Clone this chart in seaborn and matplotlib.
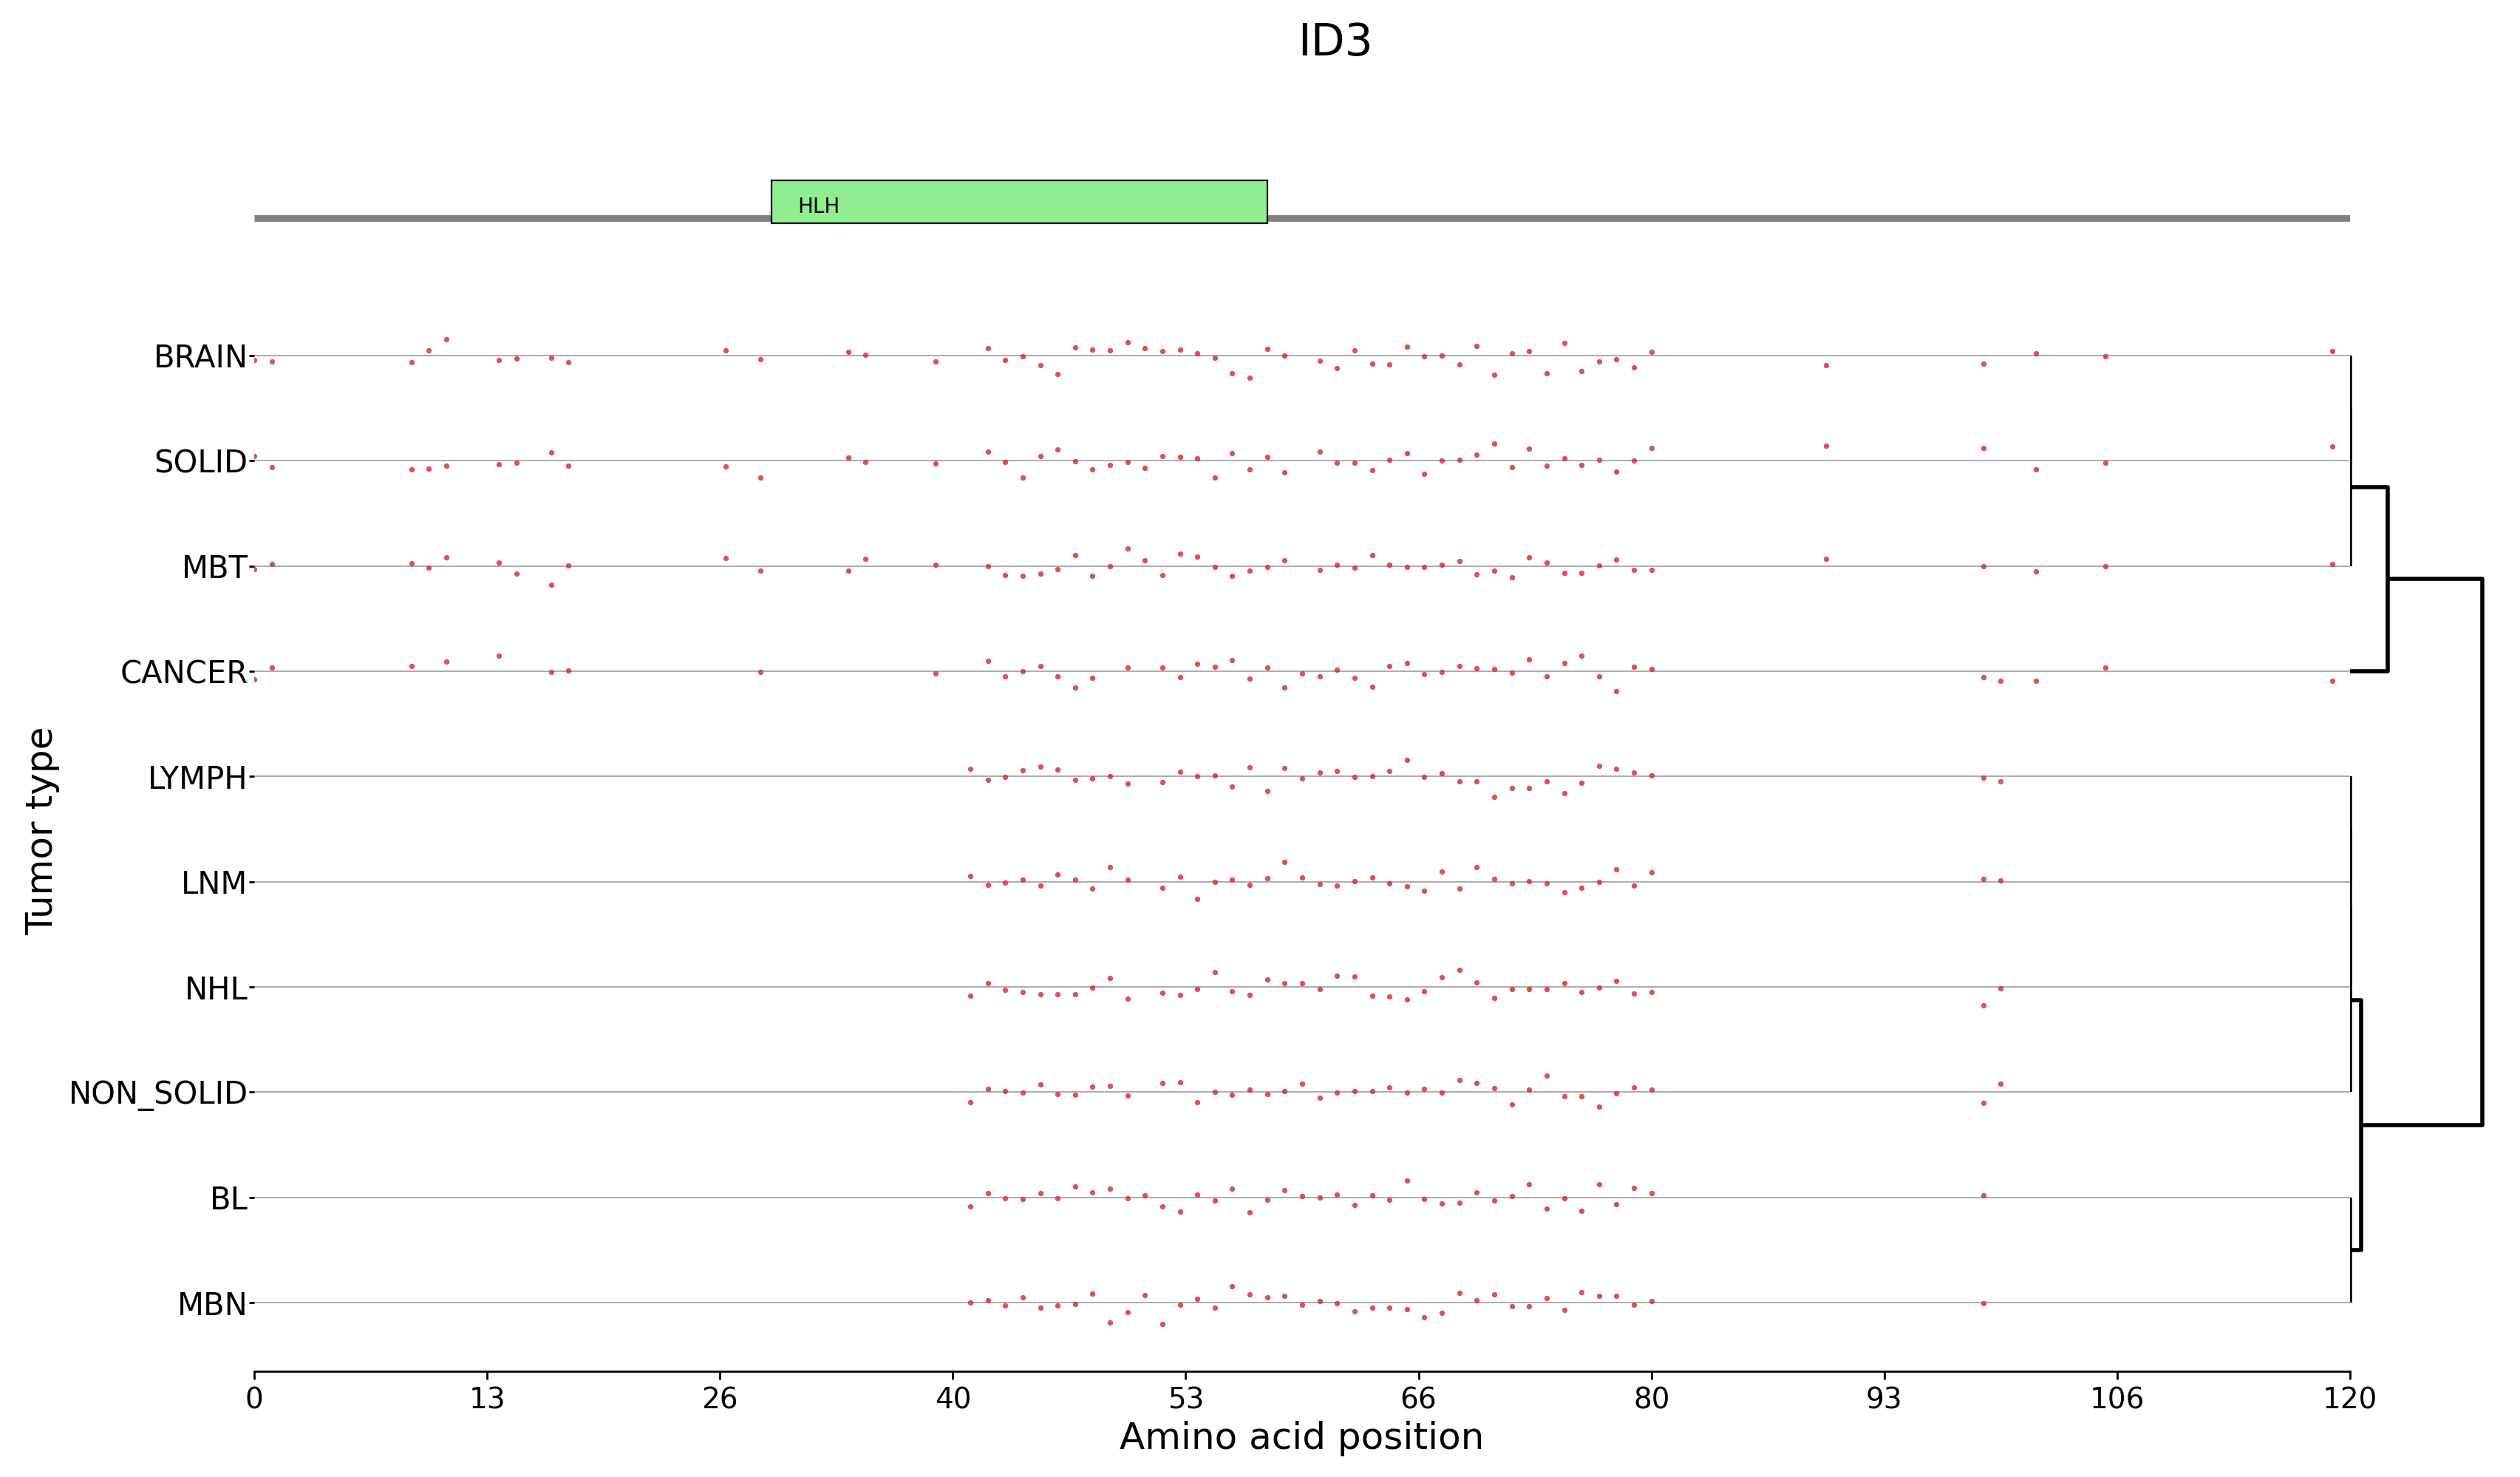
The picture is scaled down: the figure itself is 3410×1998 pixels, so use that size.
import numpy as np
import pandas as pd
import matplotlib
matplotlib.use("Agg")
import matplotlib.pyplot as plt
from matplotlib.patches import Rectangle
import seaborn as sns

# --- data -------------------------------------------------------------
gene = "ID3"
protein_length = 120
domain_name = "HLH"
domain_start = 29.6
domain_end = 58.0

tumor_types = ["BRAIN", "SOLID", "MBT", "CANCER", "LYMPH", "LNM", "NHL",
               "NON_SOLID", "BL", "MBN"]

# mutated amino acid positions per tumor type, and the vertical offset of each dot
brain_pos = [0, 1, 9, 10, 11, 14, 15, 17, 18, 27, 29, 34, 35, 39,
             42, 43, 44, 45, 46, 47, 48, 49, 50, 51, 52, 53, 54, 55, 56, 57, 58, 59,
             61, 62, 63, 64, 65, 66, 67, 68, 69, 70, 71, 72, 73, 74, 75, 76, 77, 78, 79, 80,
             90, 99, 102, 106, 119]
brain_off = [-0.045, -0.054, -0.066, 0.047, 0.153, -0.042, -0.031, -0.024, -0.066, 0.047, -0.038, 0.033, 0.009, -0.059,
             0.068, -0.045, -0.009, -0.094, -0.179, 0.075, 0.054, 0.047, 0.125, 0.068, 0.042, 0.054, 0.019, -0.024, -0.172, -0.214, 0.061, -0.002,
             -0.052, -0.122, 0.047, -0.080, -0.087, 0.082, -0.009, -0.002, -0.087, 0.089, -0.186, 0.019, 0.040, -0.172, 0.118, -0.151, -0.059, -0.038, -0.115, 0.033,
             -0.094, -0.080, 0.019, -0.009, 0.040]

solid_pos = [0, 1, 9, 10, 11, 14, 15, 17, 18, 27, 29, 34, 35, 39,
             42, 43, 44, 45, 46, 47, 48, 49, 50, 51, 52, 53, 54, 55, 56, 57, 58, 59,
             61, 62, 63, 64, 65, 66, 67, 68, 69, 70, 71, 72, 73, 74, 75, 76, 77, 78, 79, 80,
             90, 99, 102, 106, 119]
solid_off = [0.042, -0.061, -0.082, -0.075, -0.047, -0.033, -0.019, 0.080, -0.047, -0.054, -0.160, 0.031, -0.012, -0.026,
             0.087, -0.012, -0.160, 0.045, 0.108, -0.005, -0.082, -0.040, -0.012, -0.068, 0.045, 0.038, 0.024, -0.160, 0.073, -0.082, 0.038, -0.111,
             0.087, -0.019, -0.019, -0.089, 0.009, 0.073, -0.125, 0.002, 0.009, 0.059, 0.165, -0.061, 0.115, -0.047, 0.024, -0.040, 0.009, -0.104, 0.002, 0.122,
             0.144, 0.122, -0.082, -0.019, 0.136]

mbt_pos = [0, 1, 9, 10, 11, 14, 15, 17, 18, 27, 29, 34, 35, 39,
           42, 43, 44, 45, 46, 47, 48, 49, 50, 51, 52, 53, 54, 55, 56, 57, 58, 59,
           61, 62, 63, 64, 65, 66, 67, 68, 69, 70, 71, 72, 73, 74, 75, 76, 77, 78, 79, 80,
           90, 99, 102, 106, 119]
mbt_off = [-0.028, 0.019, 0.026, -0.016, 0.082, 0.033, -0.073, -0.179, 0.005, 0.075, -0.045, -0.045, 0.068, 0.012,
           -0.002, -0.087, -0.094, -0.073, -0.031, 0.104, -0.094, -0.002, 0.167, 0.054, -0.087, 0.118, 0.089, -0.009, -0.094, -0.045, -0.009, 0.054,
           -0.038, 0.012, -0.016, 0.104, 0.012, -0.009, -0.009, 0.012, 0.047, -0.080, -0.045, -0.108, 0.082, 0.033, -0.066, -0.066, 0.005, 0.061, -0.038, -0.038,
           0.068, -0.002, -0.052, -0.002, 0.019]

cancer_pos = [0, 1, 9, 11, 14, 17, 18, 29, 39,
              42, 43, 44, 45, 46, 47, 48, 50, 52, 53, 54, 55, 56, 57, 58, 59, 60,
              61, 62, 63, 64, 65, 66, 67, 68, 69, 70, 71, 72, 73, 74, 75, 76, 77, 78, 79, 80,
              99, 100, 102, 106, 119]
cancer_off = [-0.075, 0.038, 0.052, 0.094, 0.151, -0.005, 0.009, -0.005, -0.019,
              0.101, -0.047, 0.002, 0.052, -0.047, -0.153, -0.061, 0.038, 0.038, -0.054, 0.073, 0.045, 0.108, -0.068, 0.038, -0.153, -0.019,
              -0.047, 0.016, -0.061, -0.146, 0.052, 0.080, -0.026, -0.005, 0.052, 0.031, 0.024, -0.012, 0.115, -0.047, 0.080, 0.151, -0.047, -0.188, 0.045, 0.024,
              -0.054, -0.089, -0.089, 0.038, -0.089]

lymph_pos = [41, 42, 43, 44, 45, 46, 47, 48, 49, 50, 52, 53, 54, 55, 56, 57, 58, 59, 60,
             61, 62, 63, 64, 65, 66, 67, 68, 69, 70, 71, 72, 73, 74, 75, 76, 77, 78, 79, 80, 99, 100]
lymph_off = [0.075, -0.030, -0.002, 0.061, 0.096, 0.068, -0.030, -0.016, 0.005, -0.065, -0.051, 0.047, 0.005, 0.012, -0.093, 0.089, -0.136, 0.082, -0.016,
             0.040, 0.054, -0.002, 0.005, 0.054, 0.159, -0.002, 0.033, -0.044, -0.044, -0.192, -0.107, -0.107, -0.044, -0.157, -0.058, 0.103, 0.075, 0.040, 0.012, -0.009, -0.044]

lnm_pos = [41, 42, 43, 44, 45, 46, 47, 48, 49, 50, 52, 53, 54, 55, 56, 57, 58, 59, 60,
           61, 62, 63, 64, 65, 66, 67, 68, 69, 70, 71, 72, 73, 74, 75, 76, 77, 78, 79, 80, 99, 100]
lnm_off = [0.051, -0.033, -0.012, 0.016, -0.040, 0.065, 0.016, -0.068, 0.136, 0.016, -0.061, 0.044, -0.166, -0.005, 0.016, -0.033, 0.030, 0.185, 0.037,
           -0.026, -0.040, 0.002, 0.037, -0.019, -0.047, -0.089, 0.093, -0.068, 0.136, 0.023, -0.019, 0.002, -0.019, -0.103, -0.061, -0.005, 0.114, -0.040, 0.086, 0.023, 0.009]

nhl_pos = [41, 42, 43, 44, 45, 46, 47, 48, 49, 50, 52, 53, 54, 55, 56, 57, 58, 59, 60,
           61, 62, 63, 64, 65, 66, 67, 68, 69, 70, 71, 72, 73, 74, 75, 76, 77, 78, 79, 80, 99, 100]
nhl_off = [-0.082, 0.038, -0.026, -0.047, -0.068, -0.068, -0.068, -0.005, 0.087, -0.110, -0.054, -0.075, -0.019, 0.143, -0.040, -0.075, 0.073, 0.038, 0.038,
           -0.019, 0.108, 0.101, -0.082, -0.089, -0.117, -0.040, 0.094, 0.164, 0.045, -0.103, -0.019, -0.019, -0.019, 0.038, -0.047, -0.005, 0.059, -0.061, -0.047, -0.174, -0.012]

non_solid_pos = [41, 42, 43, 44, 45, 46, 47, 48, 49, 50, 52, 53, 54, 55, 56, 57, 58, 59, 60,
                 61, 62, 63, 64, 65, 66, 67, 68, 69, 70, 71, 72, 73, 74, 75, 76, 77, 78, 79, 80, 99, 100]
non_solid_off = [-0.096, 0.031, 0.009, -0.005, 0.073, -0.019, -0.026, 0.052, 0.059, -0.033, 0.087, 0.094, -0.096, 0.002, -0.026, 0.023, -0.019, 0.009, 0.080,
                 -0.054, -0.005, 0.009, 0.009, 0.045, -0.005, 0.031, -0.005, 0.115, 0.087, 0.038, -0.117, 0.023, 0.157, -0.040, -0.040, -0.138, -0.012, 0.045, 0.023, -0.103, 0.080]

bl_pos = [41, 42, 43, 44, 45, 46, 47, 48, 49, 50, 51, 52, 53, 54, 55, 56, 57, 58, 59, 60,
          61, 62, 63, 64, 65, 66, 67, 68, 69, 70, 71, 72, 73, 74, 75, 76, 77, 78, 79, 80, 99]
bl_off = [-0.087, 0.040, -0.009, -0.016, 0.040, -0.009, 0.104, 0.047, 0.082, -0.009, 0.019, -0.087, -0.136, 0.026, -0.031, 0.082, -0.144, -0.024, 0.068, 0.012,
          -0.002, 0.026, -0.073, 0.019, -0.024, 0.160, -0.016, -0.059, -0.052, 0.047, -0.031, 0.012, 0.125, -0.108, -0.009, -0.129, 0.125, -0.066, 0.089, 0.040, 0.019]

mbn_pos = [41, 42, 43, 44, 45, 46, 47, 48, 49, 50, 51, 52, 53, 54, 55, 56, 57, 58, 59, 60,
           61, 62, 63, 64, 65, 66, 67, 68, 69, 70, 71, 72, 73, 74, 75, 76, 77, 78, 79, 80, 99]
mbn_off = [0.002, 0.024, -0.026, 0.052, -0.047, -0.026, -0.012, 0.087, -0.188, -0.089, 0.073, -0.202, -0.019, 0.038, -0.047, 0.158, 0.080, 0.052, 0.066, -0.019,
           0.016, -0.005, -0.082, -0.047, -0.047, -0.061, -0.139, -0.096, 0.094, 0.024, 0.080, -0.033, -0.033, 0.045, -0.068, 0.101, 0.066, 0.066, -0.019, 0.016, -0.005]

# hierarchical clustering of tumor types (leaves 0..9, new clusters numbered from 10)
link_left = [0, 10, 4, 12, 13, 8, 14, 11, 17]
link_right = [1, 2, 5, 6, 7, 9, 15, 3, 16]
link_height = [0.0, 0.0, 0.0, 0.0, 0.0, 0.0, 0.3, 1.0, 3.5]

# --- build long table ----------------------------------------------------
all_pos = [brain_pos, solid_pos, mbt_pos, cancer_pos, lymph_pos, lnm_pos,
           nhl_pos, non_solid_pos, bl_pos, mbn_pos]
all_off = [brain_off, solid_off, mbt_off, cancer_off, lymph_off, lnm_off,
           nhl_off, non_solid_off, bl_off, mbn_off]
frames = []
for i, (name, pos, off) in enumerate(zip(tumor_types, all_pos, all_off)):
    frames.append(pd.DataFrame({"position": pos,
                                "row": i - np.array(off),
                                "tumor": name}))
df = pd.concat(frames, ignore_index=True)

# --- figure ----------------------------------------------------------------
W, H = 3410, 1998
dpi = 200
fig = plt.figure(figsize=(W / dpi, H / dpi), dpi=dpi)

ax = fig.add_axes([344 / W, 1 - 1855 / H, 2836 / W, (1855 - 393) / H])
dax = fig.add_axes([3180 / W, 1 - 1855 / H, 200 / W, (1855 - 393) / H], sharey=ax)
hax = fig.add_axes([344 / W, 1 - 320 / H, 2836 / W, 100 / H])

n = len(tumor_types)
ax.hlines(range(n), 0, protein_length, colors="#ababab", lw=0.7, zorder=1)
sns.scatterplot(data=df, x="position", y="row", color="#d62728", s=7,
                linewidth=0, alpha=0.8, ax=ax, zorder=3, legend=False)

ax.set_xlim(0, protein_length)
ax.set_ylim(n - 1 + 0.653, -0.618)
xt = np.linspace(0, protein_length, 10)
ax.set_xticks(xt)
ax.set_xticklabels([str(int(t)) for t in xt], fontsize=14)
ax.set_yticks(range(n))
ax.set_yticklabels(tumor_types, fontsize=15)
ax.tick_params(axis="y", length=2.5, width=1, pad=0.5)
ax.tick_params(axis="x", length=4, width=1)
for s in ["top", "right", "left"]:
    ax.spines[s].set_visible(False)
ax.spines["bottom"].set_linewidth(1.0)
ax.set_xlabel("Amino acid position", fontsize=18, labelpad=3)
ax.set_ylabel("Tumor type", fontsize=18, labelpad=4)

# dendrogram
node_y = {i: float(i) for i in range(n)}
node_h = {i: 0.0 for i in range(n)}
for k, (a, b, h) in enumerate(zip(link_left, link_right, link_height)):
    dax.plot([node_h[a], h, h, node_h[b]],
             [node_y[a], node_y[a], node_y[b], node_y[b]],
             color="black", lw=2, solid_capstyle="butt")
    node_y[n + k] = (node_y[a] + node_y[b]) / 2
    node_h[n + k] = h
dax.set_xlim(0, 200 * 3.5 / 179)
dax.axis("off")

# protein track
hax.plot([0, protein_length], [0.25, 0.25], color="gray", lw=3.2,
         solid_capstyle="butt", zorder=1)
hax.add_patch(Rectangle((domain_start, 0.18), domain_end - domain_start, 0.58,
                        facecolor="lightgreen", edgecolor="black", lw=0.8, zorder=2))
hax.text(domain_start + 1.5, 0.40, domain_name, fontsize=10, va="center",
         ha="left", zorder=3)
hax.set_xlim(0, protein_length)
hax.set_ylim(0, 1)
hax.axis("off")

fig.text(0.530, 1 - 58 / H, gene, fontsize=21.5, ha="center", va="center")

fig.savefig("out.png", dpi=dpi)
